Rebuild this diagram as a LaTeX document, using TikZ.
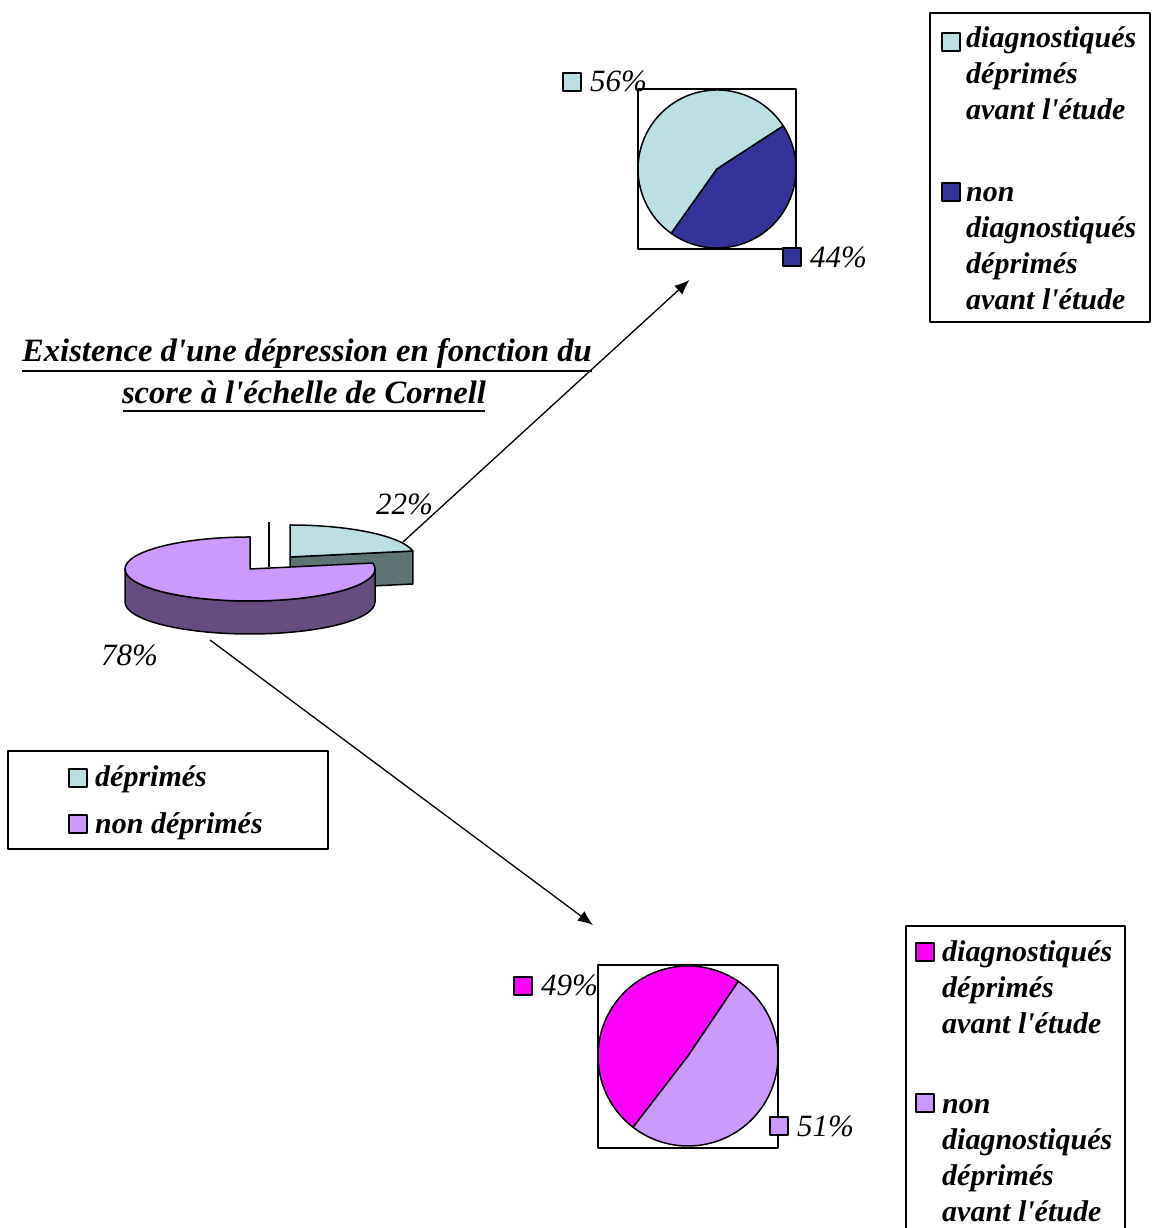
\documentclass[tikz,border=0pt]{standalone}
\usepackage{fontspec}
\setmainfont{Liberation Serif}[Ligatures=TeXOff]
\usetikzlibrary{arrows.meta}
\definecolor{lblue}{HTML}{BBE0E3}
\definecolor{dblue}{HTML}{333399}
\definecolor{magen}{HTML}{FF00FF}
\definecolor{lav}{HTML}{CC99FF}
\definecolor{dpurp}{HTML}{664C80}
\definecolor{grayside}{HTML}{5F7474}
\begin{document}
\begin{tikzpicture}[x=1pt,y=1pt, line join=round,
  slice/.style={draw=black, line width=1.5pt},
  frame/.style={draw=black, line width=1.3pt, inner sep=0pt},
  swatch/.style={draw=black, line width=1.5pt, minimum width=18pt, minimum height=18pt, inner sep=0pt, anchor=south west},
  pct/.style={font=\fontsize{31}{36}\selectfont\itshape, anchor=base west, inner sep=0pt},
  leg/.style={font=\fontsize{30}{36}\selectfont\bfseries\itshape, anchor=base west, inner sep=0pt},
  ttl/.style={font=\fontsize{32.6}{40}\selectfont\bfseries\itshape, anchor=base, inner sep=0pt},
  conn/.style={line width=1.3pt, -{Latex[length=15pt,width=12pt]}}
]
\useasboundingbox (0,0) rectangle (1151,1228);
\fill[white] (0,0) rectangle (1151,1228);

% ---------- title ----------
\node[ttl] (t1) at (307,866) {Existence d'une dépression en fonction du};
\node[ttl] (t2) at (304,824) {score à l'échelle de Cornell};
\draw[line width=2.5pt] (22,857) -- (592,857);
\draw[line width=2.5pt] (123,817) -- (485,817);

% ---------- connectors ----------
\coordinate (a1s) at (403,686);
\coordinate (a1e) at (689.5,948);
\coordinate (a2s) at (210,588);
\coordinate (a2e) at (593,303);
\draw[conn] (a1s) -- (a1e);
\draw[conn] (a2s) -- (a2e);

% ---------- 3D pie ----------
% exploded light-blue slice
\draw[slice, fill=grayside] (290,671) -- (412.8,677) -- (412.8,644) -- (290,638) -- cycle;
\draw[slice, fill=lblue] (290,671) -- (290,703) arc[start angle=90, end angle=10.8, x radius=125, y radius=32] -- cycle;
% purple slice
\draw[slice, fill=dpurp] (125,659) -- (125,626) arc[start angle=180, end angle=360, x radius=125, y radius=32] -- (375,659) arc[start angle=0, end angle=-180, x radius=125, y radius=32] -- cycle;
\draw[slice, fill=lav] (250,659) -- (250,691) arc[start angle=90, end angle=370.8, x radius=125, y radius=32] -- cycle;
\draw[line width=1.5pt] (269,661) -- (269,706);
\node[pct] (p22) at (376,713) {22\%};
\node[pct] (p78) at (101,562) {78\%};

% ---------- top pie ----------
\node[frame, minimum width=158pt, minimum height=160pt] (tbox) at (717,1059) {};
\coordinate (tc) at (717,1059);
\draw[slice, fill=lblue] (tc) -- ++(33:79) arc[start angle=33, end angle=234.6, radius=79] -- cycle;
\draw[slice, fill=dblue] (tc) -- ++(234.6:79) arc[start angle=234.6, end angle=393, radius=79] -- cycle;
\node[swatch, fill=lblue] (s56) at (562,1136) {};
\node[pct] (p56) at (590,1136) {56\%};
\node[swatch, fill=dblue] (s44) at (782,961) {};
\node[pct] (p44) at (810,960) {44\%};

% ---------- bottom pie ----------
\node[frame, minimum width=180pt, minimum height=183pt] (bbox) at (688,171.5) {};
\coordinate (bc) at (688,172);
\draw[slice, fill=magen] (bc) -- ++(56:90) arc[start angle=56, end angle=232.4, radius=90] -- cycle;
\draw[slice, fill=lav] (bc) -- ++(232.4:90) arc[start angle=232.4, end angle=416, radius=90] -- cycle;
\node[swatch, fill=magen] (s49) at (513,232) {};
\node[pct] (p49) at (541,232) {49\%};
\node[swatch, fill=lav] (s51) at (769,92) {};
\node[pct] (p51) at (797,91) {51\%};

% ---------- left legend ----------
\node[frame, minimum width=320pt, minimum height=98pt] (lleg) at (168,428) {};
\node[swatch, fill=lblue] (ls1) at (68,440) {};
\node[leg] (lt1) at (95,441) {déprimés};
\node[swatch, fill=lav] (ls2) at (68,394) {};
\node[leg] (lt2) at (95,394) {non déprimés};

% ---------- top-right legend ----------
\node[frame, minimum width=220pt, minimum height=309pt] (tleg) at (1040,1060.5) {};
\node[swatch, fill=lblue] (ts1) at (941,1176) {};
\node[leg] (tt1) at (966,1180) {diagnostiqués};
\node[leg] (tt2) at (966,1144) {déprimés};
\node[leg] (tt3) at (966,1108) {avant l'étude};
\node[swatch, fill=dblue] (ts2) at (941,1026) {};
\node[leg] (tt4) at (966,1026) {non};
\node[leg] (tt5) at (966,990) {diagnostiqués};
\node[leg] (tt6) at (966,954) {déprimés};
\node[leg] (tt7) at (966,918) {avant l'étude};

% ---------- bottom-right legend ----------
\node[frame, minimum width=219pt, minimum height=310pt] (bleg) at (1015.5,147) {};
\node[swatch, fill=magen] (bs1) at (915,266) {};
\node[leg] (bt1) at (942,266) {diagnostiqués};
\node[leg] (bt2) at (942,230) {déprimés};
\node[leg] (bt3) at (942,194) {avant l'étude};
\node[swatch, fill=lav] (bs2) at (915,115) {};
\node[leg] (bt4) at (942,114) {non};
\node[leg] (bt5) at (942,78) {diagnostiqués};
\node[leg] (bt6) at (942,42) {déprimés};
\node[leg] (bt7) at (942,6) {avant l'étude};
\end{tikzpicture}
\end{document}
